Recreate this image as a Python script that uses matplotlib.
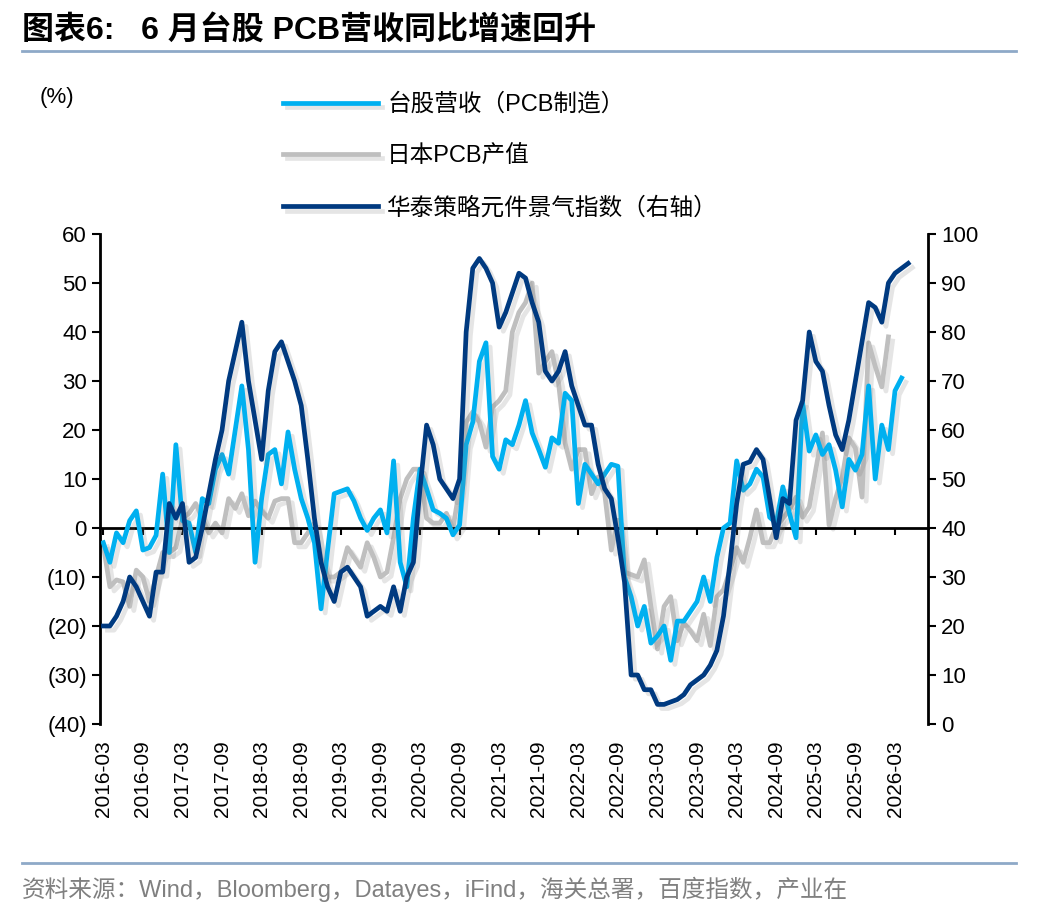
import matplotlib.pyplot as plt
import matplotlib.patheffects as pe
import numpy as np

plt.rcParams['font.family'] = ['Liberation Sans', 'Noto Sans CJK SC', 'DejaVu Sans']

# monthly values starting 2016-03
tw_pcb = [-3, -7, -1, -3, 1.5, 3.5, -4.5, -4, -1.5, 11, -5, 17, 1.5, 1, -5, 6, 5, 12, 15, 11,
          20, 29, 16, -7, 6, 15, 16, 9, 19.6, 12, 6, 2, -3, -16.5, -4.5, 7, 7.5, 8, 5.5, 2,
          -0.5, 2, 3.7, -1, 13.7, -7, -12, 2, 12, 8, 3.7, 3, 2, -1.4, 0.6, 17, 21.6, 34, 37.8, 14.6,
          12, 18, 17, 21, 26, 19.4, 16, 12.4, 18.4, 17.3, 27.5, 26, 5, 13, 11, 9, 11, 13, 12.6, -10,
          -14, -20, -16, -23.5, -22, -20, -27, -19, -19, -17, -15, -10, -15, -6, 0, 1, 13.7, 7.7, 9, 12,
          10.4, 2.2, 1, 8.4, 3, -2, 25.5, 15.7, 19, 15, 17, 11.8, 4.3, 14, 11.8, 15, 29, 10, 21, 16,
          28, 30.6]
jp_pcb = [-3.5, -12, -10.6, -11, -16, -8.6, -10, -15, -10, -5, -5, -4, 2, 3, 5, 2, -1, 1, -1, 6,
          4, 7, 2.5, 5.5, 3.5, 2, 5.5, 6, 6, -3, -3, -1, 1, -6, -10, -10, -9, -4, -6, -8,
          -3, -6, -10, -9, -2, 6, 10, 12, 12, 2, 1, 1, 3, 0, 8, 21.6, 23.7, 21.6, 16.5, 24.7,
          26, 28, 40, 44, 46, 50, 31.6, 34, 36, 29.6, 17.3, 12, 16, 16, 7, 10.4, 7, -4.5, 1.6, -9,
          -9.5, -10, -6.5, -16, -24.7, -16, -14, -23, -19.4, -21, -23, -17.6, -24, -14, -12.6, -8.6, -4, -7, -2, 3.7,
          -3, -3, 0.2, 2, 3.7, 6.3, 2.2, 4.3, 12, 19.4, 0.6, 6, 10.4, 18.4, 16.3, 6.3, 37.8, 33, 28.8, 39]
ht_index = [20, 20, 22, 25, 30, 28, 25, 22, 31, 31, 45, 42, 45, 33, 34, 40, 47, 54, 60, 70,
            76, 82, 70, 62, 54, 68, 76, 78, 74, 70, 65, 54, 42, 33, 28, 25, 31, 32, 30, 28,
            22, 23, 24, 23, 28, 23, 30, 33, 48, 61, 57, 50, 48, 46, 50, 80, 93, 95, 93, 90,
            81, 84, 88, 92, 91, 86, 82, 72, 70, 72, 76, 69, 65, 61, 61, 53, 48, 46, 38, 29,
            10, 10, 7, 7, 4, 4, 4.5, 5, 6, 8, 9, 10, 12, 15, 22, 33, 45, 53, 53.5, 56,
            54, 46, 38, 46, 45, 62, 66, 80, 74, 72, 65, 59, 56, 62, 70, 78, 86, 85, 82, 90,
            92, 93, 94]

labels = []
for i in range(0, 121, 6):
    y = 2016 + (2 + i) // 12
    m = (2 + i) % 12 + 1
    labels.append(f"{y}-{m:02d}")

fig = plt.figure(figsize=(10.48, 9.16), dpi=100)
ax = fig.add_axes([100/1048, 1 - 724/916, 828/1048, 490/916])
ax2 = ax.twinx()

shadow = [pe.SimpleLineShadow(offset=(3, -3), shadow_color='gray', alpha=0.2), pe.Normal()]
l1, = ax.plot(range(len(tw_pcb)), tw_pcb, color='#00B0F0', lw=3.4, path_effects=shadow,
              label='台股营收（PCB制造）', zorder=3)
l2, = ax.plot(range(len(jp_pcb)), jp_pcb, color='#BFBFBF', lw=3.4, path_effects=shadow,
              label='日本PCB产值', zorder=2)
l3, = ax2.plot(range(len(ht_index)), ht_index, color='#003A80', lw=3.4, path_effects=shadow,
               label='华泰策略元件景气指数（右轴）')

ax.set_ylim(-40, 60)
ax2.set_ylim(0, 100)
ax.set_xlim(-0.5, 125)
ax.set_yticks(range(-40, 61, 10))
ax.set_yticklabels([f"({-v})" if v < 0 else str(v) for v in range(-40, 61, 10)])
ax2.set_yticks(range(0, 101, 10))

ax.spines['top'].set_visible(False)
ax2.spines['top'].set_visible(False)
ax2.spines['bottom'].set_visible(False)
ax.spines['bottom'].set_position(('data', 0))
ax.spines['bottom'].set_linewidth(2)
ax.spines['left'].set_linewidth(2)
ax2.spines['right'].set_linewidth(2)
ax.set_xticks(range(0, 121, 6))
ax.set_xticklabels(labels, rotation=90, va='top')
ax.tick_params(axis='x', direction='out', length=5, width=1.5, pad=148, labelsize=15)
ax.tick_params(axis='y', direction='out', length=6, width=1.5, labelsize=16)
ax2.tick_params(axis='y', direction='out', length=6, width=1.5, labelsize=16)

fig.text(40/1048, 1 - 97/916, '(%)', fontsize=16, va='center')
fig.legend(handles=[l1, l2, l3], loc='upper left', bbox_to_anchor=(262/1048, 1 - 72/916),
           frameon=False, fontsize=17, handlelength=4.0, labelspacing=1.25, handletextpad=0.4)

fig.text(22/1048, 1 - 30/916, '图表6:   6 月台股 PCB营收同比增速回升', fontsize=23,
         fontweight='bold', va='center')
fig.add_artist(plt.Line2D([22/1048, 1016/1048], [1 - 51/916] * 2, color='#8EA9C8', lw=2))
fig.add_artist(plt.Line2D([22/1048, 1016/1048], [1 - 863/916] * 2, color='#8EA9C8', lw=2))
fig.text(22/1048, 1 - 889/916,
         '资料来源：Wind，Bloomberg，Datayes，iFind，海关总署，百度指数，产业在',
         fontsize=17, color='#808080', va='center')

fig.savefig('out.png', dpi=100)
